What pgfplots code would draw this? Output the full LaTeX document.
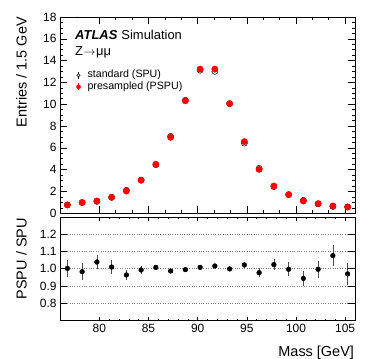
\documentclass[border=0pt]{standalone}
\usepackage{fontspec}
\setmainfont{Liberation Sans}
\usepackage{pgfplots}
\usepackage{pgfplotstable}
\pgfplotsset{compat=1.18}

\pgfplotstableread{
x pspu spu r e
76.75 0.77 0.768 1.002 0.050
78.25 0.98 0.997 0.983 0.050
79.75 1.13 1.088 1.039 0.043
81.25 1.47 1.455 1.010 0.040
82.75 2.04 2.116 0.964 0.030
84.25 3.03 3.051 0.993 0.023
85.75 4.49 4.454 1.008 0.016
87.25 6.97 7.062 0.987 0.013
88.75 10.32 10.372 0.995 0.010
90.25 13.22 13.115 1.008 0.009
91.75 13.22 13.012 1.016 0.009
93.25 10.05 10.060 0.999 0.010
94.75 6.57 6.429 1.022 0.020
96.25 4.03 4.125 0.977 0.025
97.75 2.50 2.441 1.024 0.033
99.25 1.71 1.715 0.997 0.040
100.75 1.13 1.197 0.944 0.045
102.25 0.88 0.883 0.997 0.050
103.75 0.67 0.623 1.076 0.060
105.25 0.57 0.588 0.970 0.062
}\datatable

\pgfplotsset{
  rootstyle/.style={
    scale only axis,
    width=295bp,
    xmin=76, xmax=106,
    tick align=inside,
    axis line style={line width=0.8bp},
    every tick/.style={black, line width=0.6bp},
    tick label style={font=\fontsize{12}{14}\selectfont},
    label style={font=\fontsize{14.5}{16}\selectfont},
    /pgf/number format/assume math mode=true,
  }
}

\begin{document}
\begin{tikzpicture}
\useasboundingbox (-60bp,-38.5bp) rectangle (314bp,320.5bp);

% top panel
\begin{axis}[rootstyle,
  at={(0bp,107.2bp)}, anchor=south west,
  height=196.3bp,
  ymin=0, ymax=18,
  xtick={80,85,...,105}, xticklabels={},
  minor x tick num=2,
  ytick={0,2,...,18},
  minor y tick num=3,
  major tick length=7bp, minor tick length=3.5bp,
  ylabel={Entries / 1.5 GeV},
  ylabel style={at={(axis description cs:-0.149,1)}, anchor=north east, inner sep=0pt},
  legend style={draw=none, fill=none, at={(axis description cs:0.052,0.729)}, anchor=north west,
    font=\fontsize{10.7}{12}\selectfont, row sep=1.5bp, column sep=0pt, inner sep=0pt,
    nodes={inner sep=0pt, text height=7.5bp, text depth=2.5bp}},
  legend cell align=left,
]
\addplot[only marks, mark=o, mark size=3bp, black, mark options={line width=0.5bp},
  legend image code/.code={\path[draw=none, fill=none] (-3bp,0bp) -- (9bp,0bp);
    \draw[black, line width=0.5bp] (0bp,-3.6bp) -- (0bp,3.6bp);
    \draw[black, fill=white, line width=0.5bp] (0bp,0bp) circle (1.6bp);}]
  table[x=x, y=spu] {\datatable};
\addlegendentry{standard (SPU)}
\addplot[only marks, mark=*, mark size=3.2bp, red, mark options={draw=red, fill=red},
  legend image code/.code={\path[draw=none, fill=none] (-3bp,0bp) -- (9bp,0bp);
    \draw[red, line width=0.6bp] (0bp,-3.6bp) -- (0bp,3.6bp);
    \fill[red] (0bp,0bp) circle (2.1bp);}]
  table[x=x, y=pspu] {\datatable};
\addlegendentry{presampled (PSPU)}
\node[anchor=base west, inner sep=0pt, font=\fontsize{13}{15}\selectfont] at (rel axis cs:0.051,0.886)
  {\textbf{\textit{ATLAS}}\hspace{4bp}Simulation};
\node[anchor=base west, inner sep=0pt, font=\fontsize{13}{15}\selectfont] at (rel axis cs:0.051,0.803)
  {Z\kern0.5bp$\rightarrow$\kern0.5bp μμ};
\node[anchor=base west, inner sep=0pt, font=\fontsize{12}{14}\selectfont] at (rel axis cs:0.0,1.0)
  {×10\textsuperscript{3}};
\end{axis}

% bottom panel
\begin{axis}[rootstyle,
  at={(0bp,0bp)}, anchor=south west,
  height=103.5bp,
  ymin=0.7, ymax=1.3,
  xtick={80,85,...,105},
  minor x tick num=4,
  ytick={0.8,0.9,1.0,1.1,1.2},
  yticklabel style={/pgf/number format/.cd, fixed, fixed zerofill, precision=1},
  major tick length=7bp, minor tick length=3.5bp,
  x tick style={/pgfplots/major tick length=4bp, /pgfplots/minor tick length=2bp},
  ymajorgrids,
  major grid style={dotted, gray, line width=0.6bp},
  ylabel={PSPU / SPU},
  ylabel style={at={(axis description cs:-0.149,0.99)}, anchor=north east, inner sep=0pt},
  xlabel={Mass [GeV]},
  xlabel style={at={(axis description cs:0.997,-0.348)}, anchor=base east, inner sep=0pt},
]
\addplot[only marks, mark=*, mark size=2.4bp, black,
  error bars/.cd, y dir=both, y explicit,
  error bar style={line width=0.6bp, black!70}, error mark=none]
  table[x=x, y=r, y error=e] {\datatable};
\end{axis}
\end{tikzpicture}
\end{document}
